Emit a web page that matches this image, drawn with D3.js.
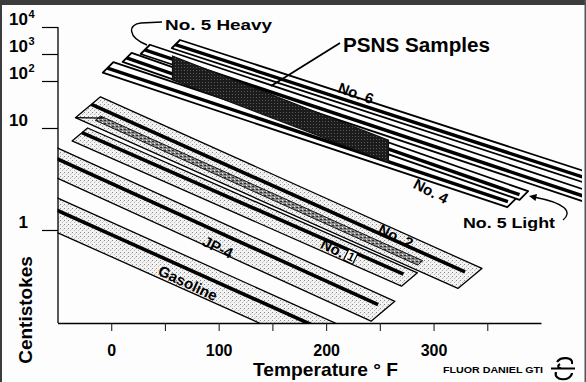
<!DOCTYPE html>
<html><head><meta charset="utf-8">
<script src="https://cdn.jsdelivr.net/npm/d3@7"></script>
<style>body{margin:0;background:#fff}svg{display:block}</style>
</head><body>
<svg id="chart" width="586" height="382"></svg>
<script>
// ---------- data ----------
const bandNames = ["No. 6", "No. 5 Heavy", "No. 5 Light", "No. 4", "No. 2", "No. 1", "JP-4", "Gasoline"];
const heavyFuels = ["No. 6", "No. 5 Heavy", "No. 5 Light", "No. 4"];
const startTemps = [64, 36, 19, 2, -10, -22, -60, -60];          // °F
const endTemps = [450, 450, 388, 378, 345, 285, 264, 300];        // °F
const upperStartVisc = [3300, 2200, 1100, 500, 46, 10, 7.1, 2.3]; // cSt
const upperEndVisc = [3.5, 2.3, 2.4, 2.1, 0.42, 0.38, 0.2, 0.045];
const lowerStartVisc = [1300, 770, 390, 150, 9.8, 6.4, 3.6, 1.05];
const lowerEndVisc = [2.7, 1.75, 1.85, 1.55, 0.21, 0.24, 0.1, 0.021];

const psnsTemps = [57, 258];
const psnsUpper = [840, 7.6];
const psnsLower = [110, 4.6];

const hatchTemps = [-10, 290];
const hatchUpper = [18, 0.5];
const hatchLower = [13, 0.43];

const xTickValues = [0, 50, 100, 150, 200, 250, 300, 350];
const xTickLabels = [0, 100, 200, 300];
const yTickValues = [1, 10, 100, 1000, 10000];
const yTickExponents = [0, 1, 2, 3, 4];

// ---------- setup ----------
const svg = d3.select("#chart");
const FONT = "'Liberation Sans', Arial, Helvetica, sans-serif";
const x = d3.scaleLinear().domain([-50, 400]).range([57.5, 541]);
const y = d3.scaleLog().domain([1, 10, 100, 1000, 10000]).range([230, 128, 81, 54, 27]);
const axisY = 323;

svg.append("rect").attr("width", 586).attr("height", 382).attr("fill", "#fdfdfd");

const defs = svg.append("defs");
const stip = defs.append("pattern").attr("id", "stip").attr("width", 4).attr("height", 4).attr("patternUnits", "userSpaceOnUse");
stip.append("rect").attr("width", 4).attr("height", 4).attr("fill", "#f3f3f3");
stip.append("rect").attr("x", 0).attr("y", 0).attr("width", 1).attr("height", 1).attr("fill", "#8a8a8a");
stip.append("rect").attr("x", 2).attr("y", 2).attr("width", 1).attr("height", 1).attr("fill", "#b4b4b4");
stip.append("rect").attr("x", 3).attr("y", 1).attr("width", 1).attr("height", 1).attr("fill", "#d4d4d4");

const dark = defs.append("pattern").attr("id", "dark").attr("width", 3).attr("height", 3).attr("patternUnits", "userSpaceOnUse");
dark.append("rect").attr("width", 3).attr("height", 3).attr("fill", "#1c1c1c");
dark.append("rect").attr("x", 1).attr("y", 1).attr("width", 1).attr("height", 1).attr("fill", "#5a5a5a");

const hatch = defs.append("pattern").attr("id", "hatch").attr("width", 4).attr("height", 3).attr("patternUnits", "userSpaceOnUse");
hatch.append("rect").attr("width", 4).attr("height", 3).attr("fill", "#8c8c8c");
hatch.append("rect").attr("x", 0).attr("y", 0).attr("width", 2).attr("height", 1).attr("fill", "#2e2e2e");
hatch.append("rect").attr("x", 2).attr("y", 2).attr("width", 1).attr("height", 1).attr("fill", "#eeeeee");

defs.append("clipPath").attr("id", "plotClip")
  .append("rect").attr("x", x(-50)).attr("y", 0).attr("width", 582 - x(-50)).attr("height", axisY);

// frame
svg.append("rect").attr("x", 0).attr("y", 0).attr("width", 586).attr("height", 5).attr("fill", "#3c3c3c");
svg.append("rect").attr("x", 0).attr("y", 0).attr("width", 2).attr("height", 382).attr("fill", "#3c3c3c");
svg.append("rect").attr("x", 584.5).attr("y", 0).attr("width", 1.5).attr("height", 382).attr("fill", "#555");

// ---------- band geometry ----------
function quad(t0, t1, vu0, vu1, vl0, vl1, k) {
  const x0 = x(t0), x1 = x(t1);
  const TL = [x0, y(vu0)], TR = [x1, y(vu1)];
  const yb0 = y(vl0), yb1 = y(vl1);
  const s = (yb1 - yb0) / (x1 - x0);
  const hL = (yb0 - TL[1]) / (1 + s * k), hR = (yb1 - TR[1]) / (1 + s * k);
  return { TL, TR, BR: [x1 - k * hR, TR[1] + hR], BL: [x0 - k * hL, TL[1] + hL] };
}
const lerp = (a, b, f) => [a[0] + (b[0] - a[0]) * f, a[1] + (b[1] - a[1]) * f];

const plot = svg.append("g").attr("clip-path", "url(#plotClip)");
const line = d3.line();

const order = d3.range(bandNames.length).reverse();
order.forEach(i => {
  const heavy = heavyFuels.includes(bandNames[i]);
  const k = heavy ? 1.0 : 1.2;
  const g = quad(startTemps[i], endTemps[i], upperStartVisc[i], upperEndVisc[i], lowerStartVisc[i], lowerEndVisc[i], k);
  plot.append("path")
    .attr("d", line([g.TL, g.TR, g.BR, g.BL]) + "Z")
    .attr("fill", heavy ? "#ffffff" : "url(#stip)")
    .attr("stroke", "#000").attr("stroke-width", heavy ? 1.8 : 1.3)
    .attr("stroke-linejoin", "round");
  const f = heavy ? 0.56 : 0.36;
  const L = lerp(g.TL, g.BL, f), R0 = lerp(g.TR, g.BR, f);
  const dx = R0[0] - L[0], dy = R0[1] - L[1], len = Math.hypot(dx, dy);
  const sh = heavy ? 4 : 9;
  const R = [R0[0] - dx / len * sh, R0[1] - dy / len * sh];
  plot.append("path").attr("d", line([L, R]))
    .attr("stroke", "#000").attr("stroke-width", heavy ? 3.4 : 3.6).attr("fill", "none");

  if (bandNames[i] === "No. 2") {
    const h = quad(hatchTemps[0], hatchTemps[1], hatchUpper[0], hatchUpper[1], hatchLower[0], hatchLower[1], 1.2);
    plot.append("path")
      .attr("d", line([h.TL, h.TR, h.BR, h.BL]) + "Z")
      .attr("fill", "url(#hatch)").attr("stroke", "#111").attr("stroke-width", 1);
    // small fold at the left end
    plot.append("path")
      .attr("d", line([g.BL, [g.TL[0] + 3, g.BL[1] + 0.5]]))
      .attr("stroke", "#000").attr("stroke-width", 1.2).attr("fill", "none");
  }
});

// PSNS sample block
plot.append("path")
  .attr("d", line([[x(psnsTemps[0]), y(psnsUpper[0])], [x(psnsTemps[1]), y(psnsUpper[1])],
                   [x(psnsTemps[1]), y(psnsLower[1])], [x(psnsTemps[0]), y(psnsLower[0])]]) + "Z")
  .attr("fill", "url(#dark)").attr("stroke", "#111").attr("stroke-width", 1.2);

// ---------- axes ----------
const xAxis = d3.axisBottom(x).tickValues(xTickValues).tickSize(8).tickSizeOuter(0).tickPadding(14)
  .tickFormat(d => xTickLabels.includes(d) ? d : "");
const gx = svg.append("g").attr("transform", `translate(0,${axisY})`).call(xAxis);
gx.select(".domain").attr("stroke", "#000").attr("stroke-width", 1.3);
gx.selectAll(".tick line").attr("stroke", "#222").attr("stroke-width", 1.1);
gx.selectAll(".tick text").attr("font-family", FONT).attr("font-weight", "bold")
  .attr("font-size", 16).attr("fill", "#000");

const yAxis = d3.axisLeft(y).tickValues(yTickValues).tickSize(16).tickSizeOuter(0).tickFormat("");
const gy = svg.append("g").attr("transform", "translate(58,0)").call(yAxis);
gy.select(".domain").remove();
gy.selectAll(".tick line").attr("stroke", "#000").attr("stroke-width", 1.2);
svg.append("line").attr("x1", 58).attr("x2", 58).attr("y1", y(10000)).attr("y2", axisY)
  .attr("stroke", "#000").attr("stroke-width", 1.3);

const yl = svg.append("g").attr("font-family", FONT).attr("font-weight", "bold").attr("fill", "#000");
yl.selectAll("text.base").data(yTickExponents).join("text").attr("class", "base")
  .attr("x", 28).attr("y", e => y(Math.pow(10, e)) - 2)
  .attr("text-anchor", "end").attr("font-size", 17)
  .text(e => e === 0 ? "1" : "10");
yl.selectAll("text.sup").data(yTickExponents.filter(e => e >= 2)).join("text").attr("class", "sup")
  .attr("x", 28.5).attr("y", e => y(Math.pow(10, e)) - 9)
  .attr("font-size", 11).text(e => e);

// axis titles
svg.append("text").attr("x", 253).attr("y", 376)
  .attr("font-family", FONT).attr("font-weight", "bold").attr("font-size", 19)
  .attr("textLength", 145).attr("lengthAdjust", "spacingAndGlyphs")
  .text("Temperature ° F");
svg.append("text").attr("transform", "translate(32,310) rotate(-90)").attr("text-anchor", "middle")
  .attr("font-family", FONT).attr("font-weight", "bold").attr("font-size", 19)
  .text("Centistokes");

// ---------- annotations ----------
const ann = svg.append("g").attr("font-family", FONT).attr("font-weight", "bold").attr("fill", "#000");
ann.append("text").attr("x", 165).attr("y", 30).attr("font-size", 15)
  .attr("textLength", 107).attr("lengthAdjust", "spacingAndGlyphs").text("No. 5 Heavy");
svg.append("path").attr("d", "M162,22 L141,23 C128,24 127,37 147,45")
  .attr("fill", "none").attr("stroke", "#000").attr("stroke-width", 1.4);

ann.append("text").attr("x", 343).attr("y", 52).attr("font-size", 20)
  .attr("textLength", 147).attr("lengthAdjust", "spacingAndGlyphs").text("PSNS Samples");
svg.append("line").attr("x1", 340).attr("y1", 43).attr("x2", 271).attr("y2", 86)
  .attr("stroke", "#000").attr("stroke-width", 1.8);

ann.append("text").attr("x", 463).attr("y", 228).attr("font-size", 15)
  .attr("textLength", 92).attr("lengthAdjust", "spacingAndGlyphs").text("No. 5 Light");
svg.append("path").attr("d", "M563,220 C573,212 565,203 536,197.5")
  .attr("fill", "none").attr("stroke", "#000").attr("stroke-width", 1.3);
svg.append("path").attr("d", "M529,196 L537,194 L535.5,201 Z").attr("fill", "#000");

const rotLabels = [
  { t: "No. 6", cx: 356, cy: 93, a: 20, fs: 15 },
  { t: "No. 4", cx: 431, cy: 191, a: 27, fs: 15 },
  { t: "No. 2", cx: 396, cy: 236, a: 26, fs: 15 },
  { t: "JP-4", cx: 218, cy: 247, a: 26, fs: 15 },
  { t: "Gasoline", cx: 188, cy: 283, a: 25, fs: 15 }
];
rotLabels.forEach(d => {
  ann.append("text").attr("transform", `translate(${d.cx},${d.cy}) rotate(${d.a})`)
    .attr("text-anchor", "middle").attr("dominant-baseline", "central")
    .attr("font-size", d.fs).text(d.t);
});
// No. 1 with boxed numeral
const n1 = ann.append("g").attr("transform", "translate(339,251) rotate(26)");
n1.append("text").attr("x", -19).attr("dominant-baseline", "central").attr("font-size", 15).text("No.");
n1.append("rect").attr("x", 8).attr("y", -6).attr("width", 10).attr("height", 12)
  .attr("fill", "#fff").attr("stroke", "#000").attr("stroke-width", 1.2);
n1.append("text").attr("x", 10).attr("dominant-baseline", "central").attr("font-size", 12).text("1");

// company mark
ann.append("text").attr("x", 443).attr("y", 373).attr("font-size", 9)
  .attr("textLength", 100).attr("lengthAdjust", "spacingAndGlyphs").text("FLUOR DANIEL GTI");
svg.append("path")
  .attr("d", "M557,362 C561,356 574,357 572,364 M551,368.5 H575 M556,372 C553,381 571,382 572,373 M560,364 C557,366 558,368 561,368")
  .attr("fill", "none").attr("stroke", "#000").attr("stroke-width", 2.2);
</script>
</body></html>
